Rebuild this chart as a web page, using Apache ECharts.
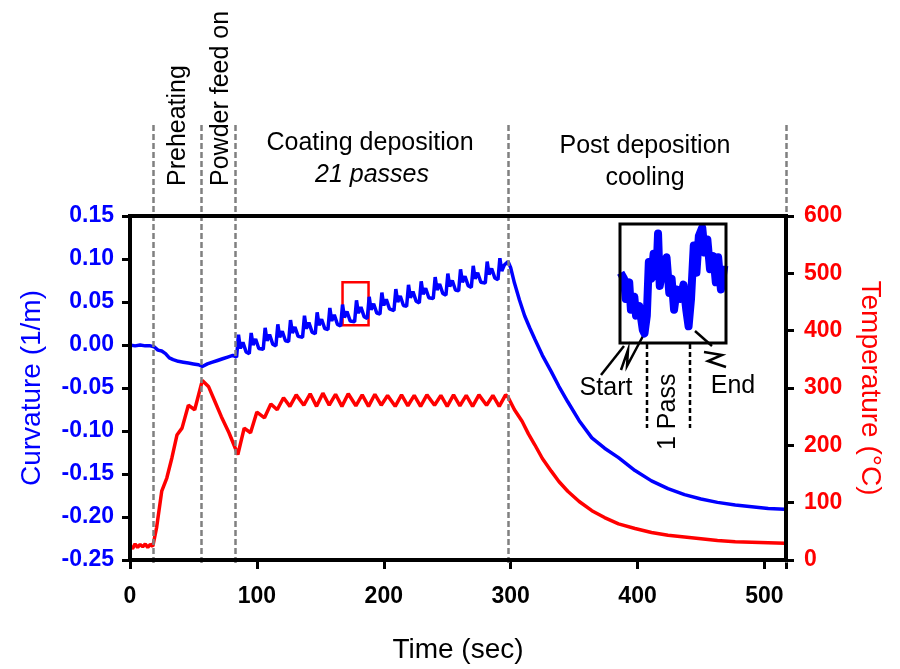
<!DOCTYPE html>
<html>
<head>
<meta charset="utf-8">
<script src="https://cdn.jsdelivr.net/npm/echarts@6/dist/echarts.min.js"></script>
<style>html,body{margin:0;padding:0;background:#fff}#c{width:900px;height:669px}</style>
</head>
<body>
<div id="c"></div>
<script>
// ---------------- data ----------------
const curvTime = [0,4,8,12,16,19,22,25,28,31,34,38,42,46,50,54,57,61,65,69,73,77,81,
  84,85.5,87,89,91.5, 94,95.5,97,99,101.5, 105,106.5,108,110,112.5, 115,116.5,118,120,122.5,
  125,126.5,128,130,132.5, 136,137.5,139,141,143.5, 146,147.5,149,151,153.5, 156,157.5,159,161,163.5,
  166,167.5,169,171,173.5, 177,178.5,180,182,184.5, 187,188.5,190,192,194.5, 197,198.5,200,202,204.5,
  208,209.5,211,213,215.5, 218,219.5,221,223,225.5, 228,229.5,231,233,235.5, 239,240.5,242,244,246.5,
  249,250.5,252,254,256.5, 259,260.5,262,264,266.5, 269,270.5,272,274,276.5, 280,281.5,283,285,287.5,
  290,291.5,293,295,298,
  300,303,307,311,315,319,325,332,338,345,354,364,374,385,398,411,424,437,450,463,477,490,503,516];
const curvValue = [0.000,-0.001,0.000,-0.001,-0.001,-0.002,-0.006,-0.007,-0.010,-0.015,-0.017,-0.019,-0.020,-0.021,-0.022,-0.023,-0.025,-0.022,-0.020,-0.018,-0.016,-0.014,-0.012,
  -0.014,0.012,-0.004,0.003,-0.008, -0.010,0.014,0.000,0.007,-0.004, -0.005,0.020,0.005,0.012,0.001, -0.001,0.024,0.009,0.016,0.005,
  0.004,0.029,0.014,0.021,0.010, 0.009,0.034,0.019,0.026,0.015, 0.013,0.038,0.023,0.030,0.019, 0.018,0.043,0.028,0.035,0.024,
  0.022,0.047,0.032,0.039,0.028, 0.027,0.052,0.037,0.044,0.033, 0.031,0.056,0.041,0.048,0.037, 0.036,0.061,0.046,0.053,0.042,
  0.040,0.065,0.050,0.057,0.046, 0.045,0.070,0.055,0.062,0.051, 0.049,0.074,0.059,0.066,0.055, 0.054,0.079,0.064,0.071,0.060,
  0.058,0.083,0.068,0.075,0.064, 0.063,0.088,0.073,0.080,0.069, 0.067,0.092,0.077,0.084,0.073, 0.072,0.097,0.082,0.089,0.078,
  0.076,0.101,0.086,0.093,0.097,
  0.090,0.072,0.052,0.034,0.020,0.007,-0.012,-0.031,-0.048,-0.066,-0.088,-0.108,-0.120,-0.131,-0.146,-0.158,-0.167,-0.174,-0.179,-0.183,-0.186,-0.188,-0.190,-0.191];

const tempTime = [0,2,4,6,8,10,12,14,16,18,19,21,25,29,33,37,41,46,51,57,62,67,72,78,
  85,90, 95,100, 106,111, 116,121, 126,131, 137,142, 147,152, 157,162, 167,172, 178,183, 188,193, 198,203,
  209,214, 219,224, 229,234, 240,245, 250,255, 260,265, 270,275, 281,286, 291,296, 298,
  303,309,314,319,325,332,338,345,354,364,374,385,398,411,424,437,450,463,477,490,503,516];
const tempValue = [25,20,28,22,27,23,28,22,27,24,25,57,120,143,178,218,230,270,262,313,302,276,250,222,
  184,230, 222,258, 248,272, 262,283, 268,288, 270,290, 268,291, 270,289, 268,290, 269,288, 268,289, 270,287,
  268,288, 269,287, 268,288, 270,287, 268,288, 269,287, 268,288, 270,287, 268,288, 284,
  262,242,220,201,177,155,137,120,102,86,74,63,55,48,43,40,37,34,32,31,30,29];

// phase boundaries (sec)
const phaseLines = [18, 56, 83, 298, 517];
// highlighted single pass (sec / curvature)
const boxTime = [167.5, 188];
const boxCurv = [0.073, 0.023];

// inset: one pass, relative units
const insetX = [0.6,3.8,5.4,8.7,10.3,13.5,15.1,18.3,21.5,23.1,25.3,27.2,29.5,31.7,34.3,35.9,37.5,40.7,43.9,46.5,48.7,51,53.5,56.7,59.9,62.5,64.7,67,69.6,72.1,74.4,77.6,79.8,82.4,84.9,88.1,90.4,92.6,95.2,98.4];
const insetY = [59,54,37,51,28,39,23,31,11,8,23,68,54,75,56,92,48,65,72,42,54,28,45,37,49,28,14,37,82,59,90,97,76,87,62,73,51,72,45,65];

// ---------------- chart ----------------
const FONT = 'Liberation Sans, Arial, sans-serif';
const zip = (a, b) => a.map((v, i) => [v, b[i]]);

const chart = echarts.init(document.getElementById('c'), null, {renderer: 'canvas'});
const option = {
  animation: false,
  backgroundColor: '#fff',
  textStyle: {fontFamily: FONT},
  grid: [
    {left: 130, right: 114, top: 216, bottom: 106, show: true, borderColor: '#000', borderWidth: 4, z: 10},
    {left: 130, right: 114, top: 125, bottom: 106},
    {left: 620, top: 224, width: 106, height: 119, show: true, borderColor: '#000', borderWidth: 3, z: 10}
  ],
  xAxis: [
    {gridIndex: 0, type: 'value', min: 0, max: 517, interval: 100,
     axisLine: {show: true, onZero: false, lineStyle: {color: '#000', width: 4}},
     axisTick: {show: true, length: 9, lineStyle: {color: '#000', width: 3}},
     axisLabel: {color: '#000', fontSize: 23, fontWeight: 'bold', fontFamily: FONT, margin: 25,
       formatter: v => (v % 100 === 0 ? String(v) : '')},
     splitLine: {show: false},
     name: 'Time (sec)', nameLocation: 'middle', nameGap: 76,
     nameTextStyle: {color: '#000', fontSize: 28, fontFamily: FONT}},
    {gridIndex: 1, type: 'value', min: 0, max: 517, show: false},
    {gridIndex: 2, type: 'value', min: 0, max: 100, show: false}
  ],
  yAxis: [
    {gridIndex: 0, type: 'value', position: 'left', min: -0.25, max: 0.15, interval: 0.05,
     axisLine: {show: true, onZero: false, lineStyle: {color: '#000', width: 4}},
     axisTick: {show: true, length: 8, lineStyle: {color: '#000', width: 3}},
     axisLabel: {color: '#0000ff', fontSize: 23, fontWeight: 'bold', fontFamily: FONT, margin: 16,
       formatter: v => (Math.abs(v) < 1e-9 ? '0.00' : v.toFixed(2))},
     splitLine: {show: false},
     name: 'Curvature (1/m)', nameLocation: 'middle', nameGap: 84, nameRotate: 90,
     nameTextStyle: {color: '#0000ff', fontSize: 28, fontFamily: FONT}},
    {gridIndex: 0, type: 'value', position: 'right', min: 0, max: 600, interval: 100,
     axisLine: {show: true, onZero: false, lineStyle: {color: '#000', width: 4}},
     axisTick: {show: true, length: 8, lineStyle: {color: '#000', width: 3}},
     axisLabel: {color: '#ff0000', fontSize: 23, fontWeight: 'bold', fontFamily: FONT, margin: 18},
     splitLine: {show: false},
     name: 'Temperature (°C)', nameLocation: 'middle', nameGap: 70, nameRotate: -90,
     nameTextStyle: {color: '#ff0000', fontSize: 28, fontFamily: FONT}},
    {gridIndex: 1, type: 'value', min: 0, max: 1, show: false},
    {gridIndex: 2, type: 'value', min: 0, max: 100, show: false}
  ],
  series: [
    {type: 'line', xAxisIndex: 1, yAxisIndex: 2, data: [], z: 1, silent: true,
     markLine: {symbol: 'none', silent: true, label: {show: false},
       lineStyle: {type: [6, 3], color: '#808080', width: 2.5},
       data: phaseLines.map(t => ({xAxis: t}))}},
    {type: 'line', xAxisIndex: 0, yAxisIndex: 0, data: zip(curvTime, curvValue), z: 3,
     showSymbol: false, symbol: 'none', lineStyle: {color: '#0000ff', width: 3.5}, itemStyle: {color: '#0000ff'},
     markArea: {silent: true, itemStyle: {color: 'rgba(0,0,0,0)', borderColor: '#ff0000', borderWidth: 2.5},
       data: [[{coord: [boxTime[0], boxCurv[0]]}, {coord: [boxTime[1], boxCurv[1]]}]]}},
    {type: 'line', xAxisIndex: 0, yAxisIndex: 1, data: zip(tempTime, tempValue), z: 3,
     showSymbol: false, symbol: 'none', lineStyle: {color: '#ff0000', width: 3.5}, itemStyle: {color: '#ff0000'}},
    {type: 'line', xAxisIndex: 2, yAxisIndex: 3, data: zip(insetX, insetY), z: 3,
     showSymbol: false, symbol: 'none', lineStyle: {color: '#0000ff', width: 8, join: 'round'}, itemStyle: {color: '#0000ff'}}
  ],
  graphic: [
    {type: 'text', x: 178, y: 186, rotation: Math.PI / 2,
     style: {text: 'Preheating', font: '25px ' + FONT, fill: '#000', textAlign: 'left', textVerticalAlign: 'middle'}},
    {type: 'text', x: 221, y: 186, rotation: Math.PI / 2,
     style: {text: 'Powder feed on', font: '25px ' + FONT, fill: '#000', textAlign: 'left', textVerticalAlign: 'middle'}},
    {type: 'text', x: 370, y: 143,
     style: {text: 'Coating deposition', font: '25px ' + FONT, fill: '#000', textAlign: 'center', textVerticalAlign: 'middle'}},
    {type: 'text', x: 372, y: 175,
     style: {text: '21 passes', font: 'italic 25px ' + FONT, fill: '#000', textAlign: 'center', textVerticalAlign: 'middle'}},
    {type: 'text', x: 645, y: 146,
     style: {text: 'Post deposition', font: '25px ' + FONT, fill: '#000', textAlign: 'center', textVerticalAlign: 'middle'}},
    {type: 'text', x: 645, y: 178,
     style: {text: 'cooling', font: '25px ' + FONT, fill: '#000', textAlign: 'center', textVerticalAlign: 'middle'}},
    {type: 'text', x: 606, y: 388,
     style: {text: 'Start', font: '25px ' + FONT, fill: '#000', textAlign: 'center', textVerticalAlign: 'middle'}},
    {type: 'text', x: 733, y: 386,
     style: {text: 'End', font: '25px ' + FONT, fill: '#000', textAlign: 'center', textVerticalAlign: 'middle'}},
    {type: 'text', x: 668, y: 450, rotation: Math.PI / 2,
     style: {text: '1 Pass', font: '25px ' + FONT, fill: '#000', textAlign: 'left', textVerticalAlign: 'middle'}},
    {type: 'line', shape: {x1: 647, y1: 344, x2: 647, y2: 428}, style: {stroke: '#000', lineWidth: 2.5, lineDash: [5, 3]}},
    {type: 'line', shape: {x1: 690, y1: 344, x2: 690, y2: 428}, style: {stroke: '#000', lineWidth: 2.5, lineDash: [5, 3]}},
    {type: 'polyline', shape: {points: [[601, 375], [624, 346]]}, style: {stroke: '#000', lineWidth: 2.5, fill: null}},
    {type: 'polyline', shape: {points: [[621, 370], [628, 350], [627, 366], [643, 336]]}, style: {stroke: '#000', lineWidth: 2.5, fill: null}},
    {type: 'polyline', shape: {points: [[695, 331], [712, 346]]}, style: {stroke: '#000', lineWidth: 2.5, fill: null}},
    {type: 'polyline', shape: {points: [[704, 352], [722, 355], [708, 361], [726, 367]]}, style: {stroke: '#000', lineWidth: 2.5, fill: null}}
  ]
};
chart.setOption(option);
</script>
</body>
</html>
